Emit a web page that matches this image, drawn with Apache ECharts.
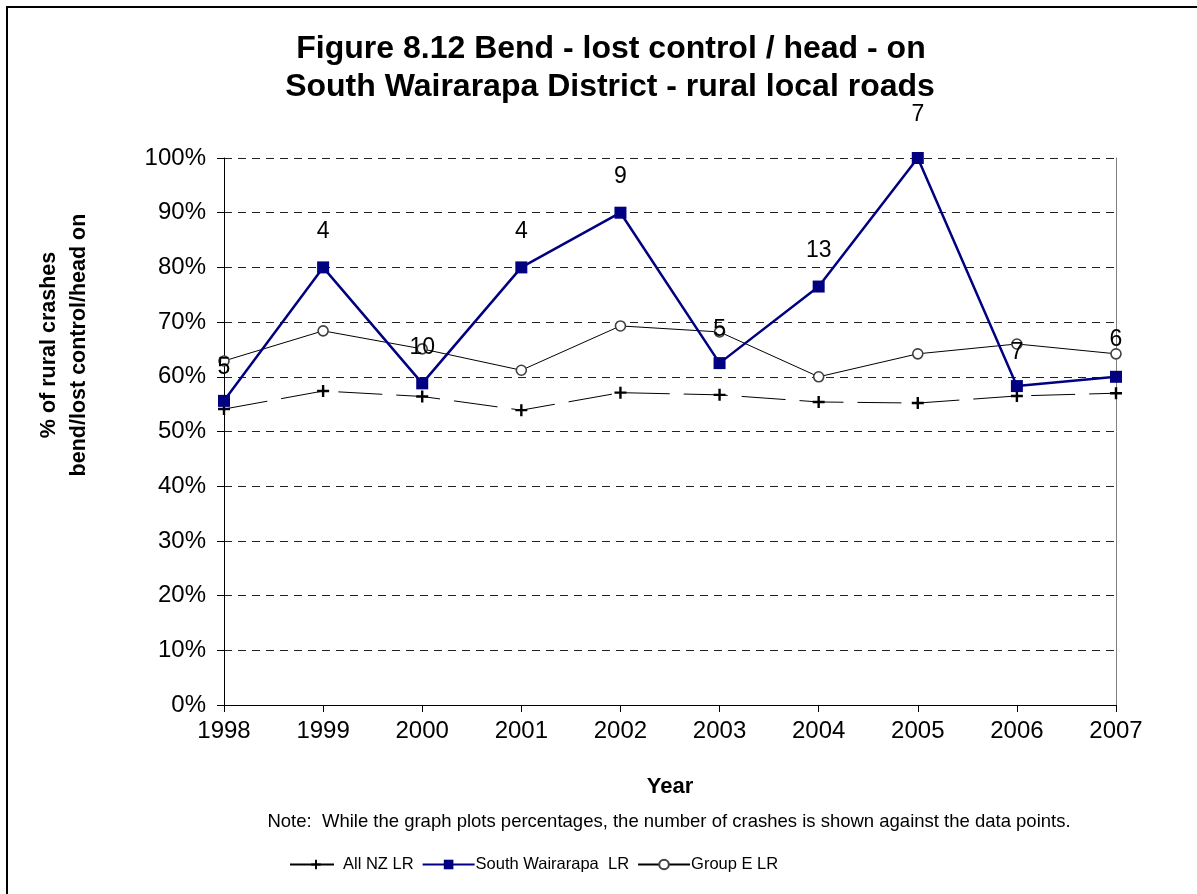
<!DOCTYPE html>
<html>
<head>
<meta charset="utf-8">
<script src="https://cdn.jsdelivr.net/npm/echarts@6/dist/echarts.min.js"></script>
<style>
html,body{margin:0;padding:0;background:#fff;}
#chart{width:1197px;height:894px;}
</style>
</head>
<body>
<div id="chart"></div>
<script>
const years = ['1998','1999','2000','2001','2002','2003','2004','2005','2006','2007'];
const allNZ = [54.1, 57.4, 56.4, 53.9, 57.1, 56.7, 55.4, 55.2, 56.5, 57.0];
const southWairarapa = [55.6, 80.0, 58.8, 80.0, 90.0, 62.5, 76.5, 100.0, 58.3, 60.0];
const groupE = [62.9, 68.4, 65.1, 61.2, 69.3, 68.2, 60.0, 64.2, 66.0, 64.2];
const crashCounts = [5, 4, 10, 4, 9, 5, 13, 7, 7, 6];
const labelAt = [61.6, 86.5, 65.3, 86.5, 96.5, 68.7, 83.0, 108.0, 64.5, 66.7];
const yTicks = [0, 10, 20, 30, 40, 50, 60, 70, 80, 90, 100];

const FONT = 'Liberation Sans, Arial, sans-serif';
const plusPath = 'path://M4,0H6V4H10V6H6V10H4V6H0V4H4Z';

const chart = echarts.init(document.getElementById('chart'), null, {renderer:'canvas'});
const option = {
  backgroundColor: '#fff',
  animation: false,
  textStyle: {fontFamily: FONT, color: '#000'},
  grid: {left: 224, right: 81, top: 158, bottom: 189, containLabel: false},
  xAxis: {
    type: 'category',
    data: years,
    boundaryGap: false,
    axisLine: {lineStyle: {color: '#000', width: 1}},
    axisTick: {show: true, alignWithLabel: true, length: 7, lineStyle: {color: '#000'}},
    axisLabel: {fontSize: 24, color: '#000', margin: 14, fontFamily: FONT},
    splitLine: {show: false},
    name: 'Year',
    nameLocation: 'middle',
    nameGap: 71,
    nameTextStyle: {fontSize: 22, fontWeight: 'bold', color: '#000', fontFamily: FONT}
  },
  yAxis: [{
    type: 'value',
    min: yTicks[0],
    max: yTicks[yTicks.length - 1],
    interval: 10,
    axisLine: {show: true, lineStyle: {color: '#000', width: 1}},
    axisTick: {show: true, length: 7, lineStyle: {color: '#000'}},
    axisLabel: {fontSize: 24, color: '#000', margin: 18, formatter: '{value}%', fontFamily: FONT},
    splitLine: {show: true, lineStyle: {color: '#222', type: [8, 6], width: 1}}
  }, {
    type: 'value',
    position: 'right',
    min: yTicks[0],
    max: yTicks[yTicks.length - 1],
    interval: 10,
    axisLine: {show: true, lineStyle: {color: '#808080', width: 1}},
    axisTick: {show: false},
    axisLabel: {show: false},
    splitLine: {show: false}
  }],
  legend: {
    left: 284,
    top: 851,
    itemWidth: 52,
    itemHeight: 12,
    itemGap: 8,
    textStyle: {fontSize: 16.5, color: '#000', fontFamily: FONT, padding: [0, 0, 0, -4]},
    data: ['All NZ LR', 'South Wairarapa  LR', 'Group E LR']
  },
  series: [
    {
      name: 'All NZ LR',
      type: 'line',
      data: allNZ,
      symbol: plusPath,
      symbolSize: 12,
      itemStyle: {color: '#000'},
      lineStyle: {color: '#000', width: 1, type: [44, 14]},
      z: 3
    },
    {
      name: 'South Wairarapa  LR',
      type: 'line',
      data: southWairarapa,
      symbol: 'rect',
      symbolSize: 12,
      itemStyle: {color: '#000080'},
      lineStyle: {color: '#000080', width: 2.5},
      z: 4
    },
    {
      name: 'Group E LR',
      type: 'line',
      data: groupE,
      symbol: 'circle',
      symbolSize: 10,
      itemStyle: {color: '#fff', borderColor: '#404040', borderWidth: 1.6},
      lineStyle: {color: '#000', width: 1},
      z: 2
    },
    {
      name: 'counts',
      type: 'scatter',
      data: labelAt.map((v, i) => [i, v, crashCounts[i]]),
      symbolSize: 0,
      clip: false,
      silent: true,
      z: 10,
      itemStyle: {opacity: 1, color: '#000'},
      label: {
        show: true,
        position: 'inside',
        formatter: p => String(p.value[2]),
        fontSize: 23,
        color: '#000',
        opacity: 1,
        fontFamily: FONT
      }
    }
  ],
  graphic: [
    {type: 'rect', shape: {x: 7, y: 7, width: 1200, height: 900},
     style: {fill: 'none', stroke: '#000', lineWidth: 2}, silent: true},
    {type: 'text', x: 611, y: 49,
     style: {text: 'Figure 8.12 Bend - lost control / head - on', font: 'bold 32px ' + FONT,
             fill: '#000', textAlign: 'center', textVerticalAlign: 'middle'}},
    {type: 'text', x: 610, y: 87,
     style: {text: 'South Wairarapa District - rural local roads', font: 'bold 32px ' + FONT,
             fill: '#000', textAlign: 'center', textVerticalAlign: 'middle'}},
    {type: 'text', x: 49, y: 345, rotation: Math.PI / 2,
     style: {text: '% of rural crashes', font: 'bold 21.5px ' + FONT,
             fill: '#000', textAlign: 'center', textVerticalAlign: 'middle'}},
    {type: 'text', x: 79, y: 345, rotation: Math.PI / 2,
     style: {text: 'bend/lost control/head on', font: 'bold 21.5px ' + FONT,
             fill: '#000', textAlign: 'center', textVerticalAlign: 'middle'}},
    {type: 'text', x: 669, y: 822,
     style: {text: 'Note:  While the graph plots percentages, the number of crashes is shown against the data points.',
             font: '18.5px ' + FONT, fill: '#000', textAlign: 'center', textVerticalAlign: 'middle'}}
  ]
};
chart.setOption(option);
</script>
</body>
</html>
